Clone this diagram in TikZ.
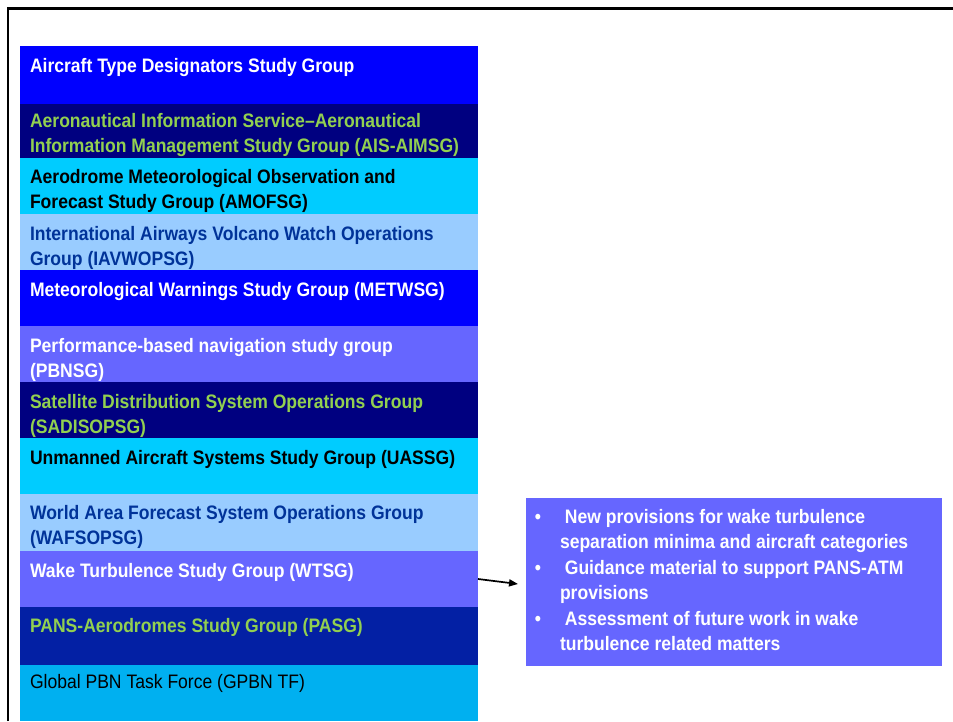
\documentclass[tikz,border=0pt]{standalone}
\usepackage{fontspec}
\setmainfont[FakeStretch=0.9]{Liberation Sans}
\usetikzlibrary{arrows.meta}
\definecolor{cBlue}{RGB}{0,0,255}
\definecolor{cNavy}{RGB}{0,0,128}
\definecolor{cCyan}{RGB}{0,204,255}
\definecolor{cLight}{RGB}{153,204,255}
\definecolor{cPeri}{RGB}{102,102,255}
\definecolor{cDeep}{RGB}{3,32,164}
\definecolor{cSky}{RGB}{0,176,240}
\definecolor{tGreen}{RGB}{146,208,80}
\definecolor{tDark}{RGB}{0,51,153}
\newcommand{\rowlines}[1]{\begin{tabular}[t]{@{}l@{}}#1\end{tabular}}
\begin{document}
\begin{tikzpicture}[x=1pt,y=-1pt,
  rowbox/.style={draw=none, inner sep=0pt, outer sep=0pt, minimum width=458pt, anchor=north west},
  rowtext/.style={anchor=base west, inner sep=0pt, outer sep=0pt, font=\fontsize{19.5}{25}\selectfont\bfseries},
  rowplain/.style={anchor=base west, inner sep=0pt, outer sep=0pt, font=\fontsize{19.5}{25}\selectfont},
  frameline/.style={line width=2.7pt, black}]
\useasboundingbox (0,0) rectangle (953,721);
\draw[frameline] (8,721) -- (8,8.5) -- (953,8.5);
% rows
\node[rowbox, fill=cBlue,  minimum height=58pt] (r1)  at (20,46)  {};
\node[rowbox, fill=cNavy,  minimum height=54pt] (r2)  at (20,104) {};
\node[rowbox, fill=cCyan,  minimum height=56pt] (r3)  at (20,158) {};
\node[rowbox, fill=cLight, minimum height=56pt] (r4)  at (20,214) {};
\node[rowbox, fill=cBlue,  minimum height=56pt] (r5)  at (20,270) {};
\node[rowbox, fill=cPeri,  minimum height=56pt] (r6)  at (20,326) {};
\node[rowbox, fill=cNavy,  minimum height=56pt] (r7)  at (20,382) {};
\node[rowbox, fill=cCyan,  minimum height=56pt] (r8)  at (20,438) {};
\node[rowbox, fill=cLight, minimum height=57pt] (r9)  at (20,494) {};
\node[rowbox, fill=cPeri,  minimum height=56pt] (r10) at (20,551) {};
\node[rowbox, fill=cDeep,  minimum height=58pt] (r11) at (20,607) {};
\node[rowbox, fill=cSky,   minimum height=56pt] (r12) at (20,665) {};
% texts
\node[rowtext, text=white]  (t1)  at (30,72)  {\rowlines{Aircraft Type Designators Study Group}};
\node[rowtext, text=tGreen] (t2)  at (30,127) {\rowlines{Aeronautical Information Service--Aeronautical\\Information Management Study Group (AIS-AIMSG)}};
\node[rowtext, text=black]  (t3)  at (30,183) {\rowlines{Aerodrome Meteorological Observation and\\Forecast Study Group (AMOFSG)}};
\node[rowtext, text=tDark]  (t4)  at (30,240) {\rowlines{International Airways Volcano Watch Operations\\Group (IAVWOPSG)}};
\node[rowtext, text=white]  (t5)  at (30,296) {\rowlines{Meteorological Warnings Study Group (METWSG)}};
\node[rowtext, text=white]  (t6)  at (30,352) {\rowlines{Performance-based navigation study group\\(PBNSG)}};
\node[rowtext, text=tGreen] (t7)  at (30,408) {\rowlines{Satellite Distribution System Operations Group\\(SADISOPSG)}};
\node[rowtext, text=black]  (t8)  at (30,464) {\rowlines{Unmanned Aircraft Systems Study Group (UASSG)}};
\node[rowtext, text=tDark]  (t9)  at (30,519) {\rowlines{World Area Forecast System Operations Group\\(WAFSOPSG)}};
\node[rowtext, text=white]  (t10) at (30,577) {\rowlines{Wake Turbulence Study Group (WTSG)}};
\node[rowtext, text=tGreen] (t11) at (30,632) {\rowlines{PANS-Aerodromes Study Group (PASG)}};
\node[rowplain, text=black]  (t12) at (30,688) {\rowlines{Global PBN Task Force (GPBN TF)}};
% right box
\node[rowbox, fill=cPeri, minimum width=416pt, minimum height=168pt] (wb) at (526,498) {};
\node[anchor=base west, inner sep=0pt, outer sep=0pt, text=white, font=\fontsize{19.5}{25.5}\selectfont\bfseries] (wt) at (560,523)
  {\rowlines{\llap{•\hspace{19pt}}\ New provisions for wake turbulence\\
   separation minima and aircraft categories\\
   \llap{•\hspace{19pt}}\ Guidance material to support PANS-ATM\\
   provisions\\
   \llap{•\hspace{19pt}}\ Assessment of future work in wake\\
   turbulence related matters}};
% arrow
\coordinate (tip) at (518,584);
\draw[line width=1.7pt, -{Triangle[length=9pt,width=7pt]}] (r10.east) -- (tip);
\end{tikzpicture}
\end{document}
